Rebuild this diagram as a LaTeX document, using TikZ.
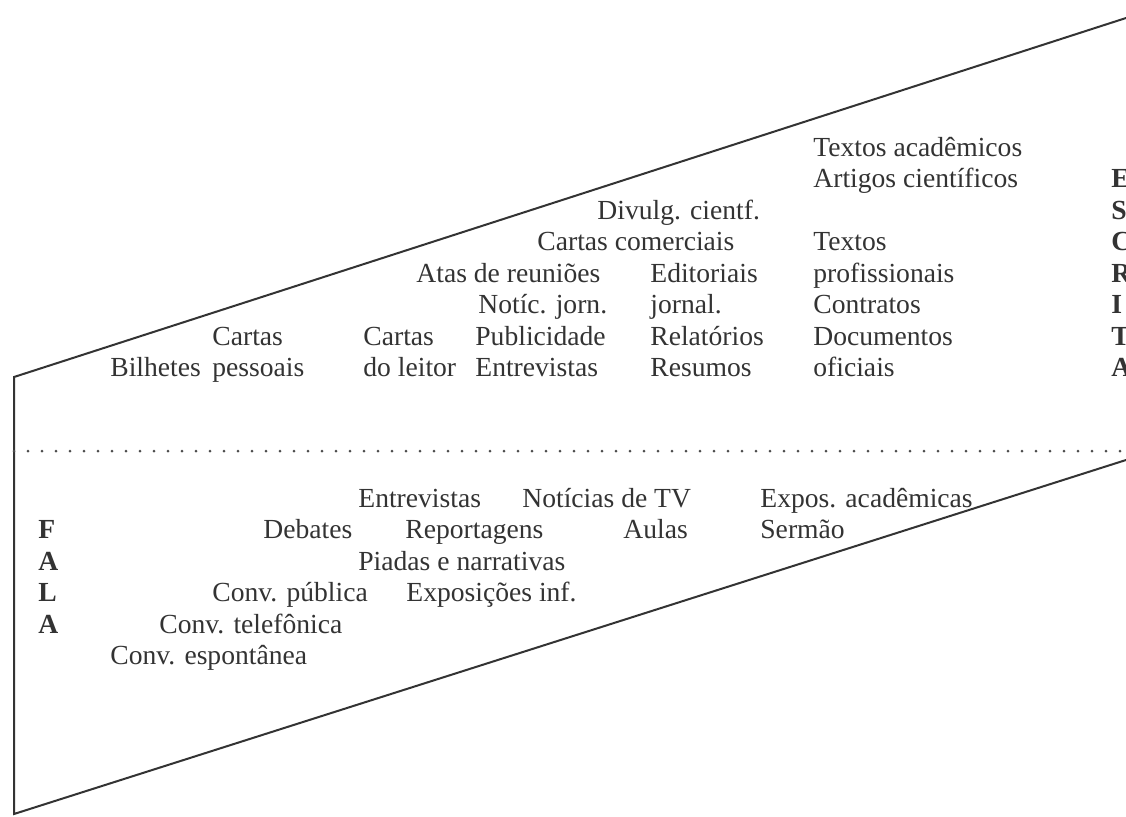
\documentclass[tikz,border=0pt]{standalone}
\usepackage{fontspec}
\setmainfont{Liberation Serif}
\usepackage{tikz}

\begin{document}
\begin{tikzpicture}[x = 0.5pt, y = -0.5pt]

  \tikzstyle{txt} = [anchor = base west, inner sep = 0pt, text = black!80, font = \fontsize{13.8}{16}\selectfont]
    \tikzstyle{side} = [txt, font = \fontsize{13.8}{16}\selectfont\bfseries]
    \tikzstyle{rim} = [draw = black!80, line width = 1pt]
    \tikzstyle{divide} = [draw = black!70, line width = 1.5pt, line cap = round, dash pattern = on 0pt off 7pt]

    \useasboundingbox (0,0) rectangle (1126,816);
    \clip (0,0) rectangle (1126,816);

    \coordinate (tl) at (14,377);
    \coordinate (tr) at (1126,18);
    \coordinate (bl) at (14,814);
    \coordinate (br) at (1126,460);
    \coordinate (dl) at (14,451);
    \coordinate (dr) at (1126,451);

    \draw[rim] (tr) -- (tl) -- (bl) -- (br);
    \draw[divide] (dl) -- (dr);

    % escrita
    \node[txt] (acad) at (813,156) {Textos acadêmicos};
    \node[txt] (artigos) at (813,187.5) {Artigos científicos};
    \node[txt] (divulg) at (597,219) {Divulg. cientf.};
    \node[txt] (comerc) at (537,250.5) {Cartas comerciais};
    \node[txt] (textos) at (813,250.5) {Textos};
    \node[txt] (atas) at (416,282) {Atas de reuniões};
    \node[txt] (edit) at (650,282) {Editoriais};
    \node[txt] (prof) at (813,282) {profissionais};
    \node[txt] (notic) at (478,313.5) {Notíc. jorn.};
    \node[txt] (jornal) at (650,313.5) {jornal.};
    \node[txt] (contr) at (813,313.5) {Contratos};
    \node[txt] (cartasp) at (212,345) {Cartas};
    \node[txt] (cartasl) at (363,345) {Cartas};
    \node[txt] (public) at (475,345) {Publicidade};
    \node[txt] (relat) at (650,345) {Relatórios};
    \node[txt] (docs) at (813,345) {Documentos};
    \node[txt] (bilh) at (110,376.5) {Bilhetes};
    \node[txt] (pess) at (212,376.5) {pessoais};
    \node[txt] (leitor) at (363,376.5) {do leitor};
    \node[txt] (entrev) at (475,376.5) {Entrevistas};
    \node[txt] (resum) at (650,376.5) {Resumos};
    \node[txt] (ofic) at (813,376.5) {oficiais};

    \node[side] (e1) at (1111,187.5) {E};
    \node[side] (e2) at (1111,219) {S};
    \node[side] (e3) at (1111,250.5) {C};
    \node[side] (e4) at (1111,282) {R};
    \node[side] (e5) at (1111,313.5) {I};
    \node[side] (e6) at (1111,345) {T};
    \node[side] (e7) at (1111,376.5) {A};

    % fala
    \node[txt] (entrevf) at (358,507) {Entrevistas};
    \node[txt] (notictv) at (522,507) {Notícias de TV};
    \node[txt] (expacad) at (760,507) {Expos. acadêmicas};
    \node[txt] (debat) at (263,538.5) {Debates};
    \node[txt] (report) at (405,538.5) {Reportagens};
    \node[txt] (aulas) at (623,538.5) {Aulas};
    \node[txt] (sermao) at (760,538.5) {Sermão};
    \node[txt] (piadas) at (358,570) {Piadas e narrativas};
    \node[txt] (convpub) at (212,601.5) {Conv. pública};
    \node[txt] (expinf) at (406,601.5) {Exposições inf.};
    \node[txt] (convtel) at (159,633) {Conv. telefônica};
    \node[txt] (convesp) at (110,664.5) {Conv. espontânea};

    \node[side] (f1) at (38,538.5) {F};
    \node[side] (f2) at (38,570) {A};
    \node[side] (f3) at (38,601.5) {L};
    \node[side] (f4) at (38,633) {A};
\end{tikzpicture}
\end{document}
